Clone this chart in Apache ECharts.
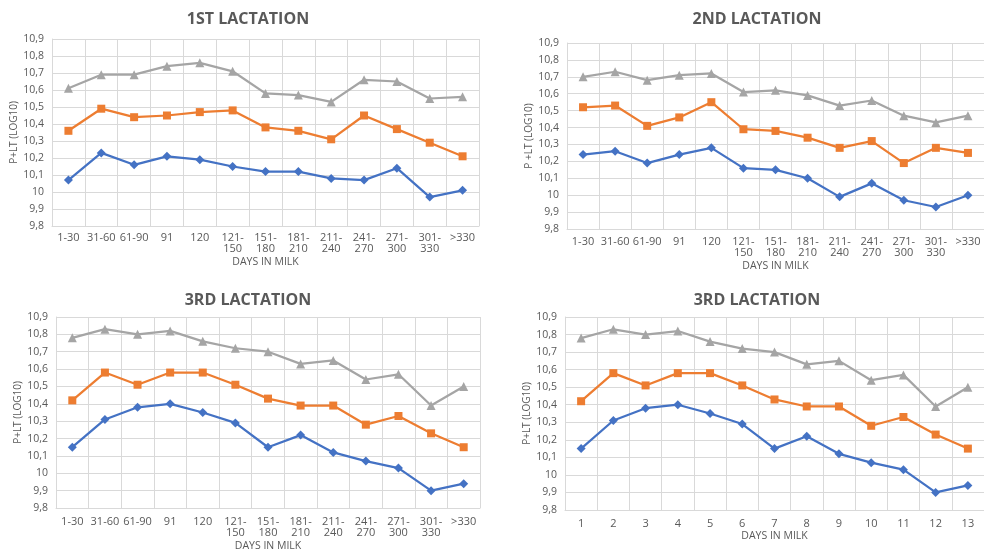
<!DOCTYPE html>
<html>
<head>
<meta charset="utf-8">
<script src="https://cdn.jsdelivr.net/npm/echarts@6/dist/echarts.min.js"></script>
<style>
  html, body { margin: 0; padding: 0; background: #fff; }
  #chart { width: 984px; height: 553px; }
</style>
</head>
<body>
<div id="chart"></div>
<script>
// 数据
const dimCategories = ['1-30', '31-60', '61-90', '91', '120', '121-\n150', '151-\n180', '181-\n210', '211-\n240', '241-\n270', '271-\n300', '301-\n330', '>330'];
const numCategories = ['1', '2', '3', '4', '5', '6', '7', '8', '9', '10', '11', '12', '13'];

const lac1Blue = [10.07, 10.23, 10.16, 10.21, 10.19, 10.15, 10.12, 10.12, 10.08, 10.07, 10.14, 9.97, 10.01];
const lac1Orange = [10.36, 10.49, 10.44, 10.45, 10.47, 10.48, 10.38, 10.36, 10.31, 10.45, 10.37, 10.29, 10.21];
const lac1Gray = [10.61, 10.69, 10.69, 10.74, 10.76, 10.71, 10.58, 10.57, 10.53, 10.66, 10.65, 10.55, 10.56];

const lac2Blue = [10.24, 10.26, 10.19, 10.24, 10.28, 10.16, 10.15, 10.10, 9.99, 10.07, 9.97, 9.93, 10.00];
const lac2Orange = [10.52, 10.53, 10.41, 10.46, 10.55, 10.39, 10.38, 10.34, 10.28, 10.32, 10.19, 10.28, 10.25];
const lac2Gray = [10.70, 10.73, 10.68, 10.71, 10.72, 10.61, 10.62, 10.59, 10.53, 10.56, 10.47, 10.43, 10.47];

const lac3Blue = [10.15, 10.31, 10.38, 10.40, 10.35, 10.29, 10.15, 10.22, 10.12, 10.07, 10.03, 9.90, 9.94];
const lac3Orange = [10.42, 10.58, 10.51, 10.58, 10.58, 10.51, 10.43, 10.39, 10.39, 10.28, 10.33, 10.23, 10.15];
const lac3Gray = [10.78, 10.83, 10.80, 10.82, 10.76, 10.72, 10.70, 10.63, 10.65, 10.54, 10.57, 10.39, 10.50];

const panelTitles = ['1ST LACTATION', '2ND LACTATION', '3RD LACTATION', '3RD LACTATION'];
const yNames = ['P+LT (LOG10)', 'P +LT (LOG10)', 'P+LT (LOG10)', 'P+LT (LOG10)'];

const chart = echarts.init(document.getElementById('chart'));
const FONT = 'Open Sans';
const TXT = '#595959';
const GRIDC = '#d9d9d9';

const grids = [
    { left: 52, top: 39, width: 427, height: 187 },
    { left: 567, top: 43, width: 424, height: 186 },
    { left: 56, top: 317, width: 424, height: 193 },
    { left: 565, top: 317, width: 425, height: 193 }
];
const titlePos = [[243, 6], [752, 6], [243, 287], [752, 287]];
const xLabelMargins = [6, 7, 8, 8];
const xNameGaps = [31, 32, 33, 21];
const yNameGaps = [32, 31, 31, 33];
const xCats = [dimCategories, dimCategories, dimCategories, numCategories];
const panelData = [
    [lac1Blue, lac1Orange, lac1Gray],
    [lac2Blue, lac2Orange, lac2Gray],
    [lac3Blue, lac3Orange, lac3Gray],
    [lac3Blue, lac3Orange, lac3Gray]
];

const colors = ['#4472C4', '#ED7D31', '#A5A5A5'];
const symbols = ['diamond', 'rect', 'triangle'];
const symbolSizes = [9, 8, 9];

const xAxes = [], yAxes = [], series = [], titles = [];
grids.forEach((g, i) => {
    titles.push({
        text: panelTitles[i],
        left: titlePos[i][0],
        top: titlePos[i][1],
        textAlign: 'center',
        textStyle: { fontFamily: FONT, fontSize: 16, fontWeight: 'bold', color: TXT }
    });
    xAxes.push({
        type: 'category',
        gridIndex: i,
        data: xCats[i],
        boundaryGap: true,
        name: 'DAYS IN MILK',
        nameLocation: 'middle',
        nameGap: xNameGaps[i],
        nameTextStyle: { fontFamily: FONT, fontSize: 10.5, color: TXT },
        axisLine: { lineStyle: { color: GRIDC } },
        axisTick: { show: false },
        axisLabel: { interval: 0, margin: xLabelMargins[i], fontFamily: FONT, fontSize: 11, color: TXT, lineHeight: 11 },
        splitLine: { show: true, interval: 0, lineStyle: { color: GRIDC } }
    });
    yAxes.push({
        type: 'value',
        gridIndex: i,
        min: 9.8,
        max: 10.9,
        interval: 0.1,
        name: yNames[i],
        nameLocation: 'middle',
        nameGap: yNameGaps[i],
        nameTextStyle: { fontFamily: FONT, fontSize: 10, color: TXT },
        axisLine: { show: true, lineStyle: { color: GRIDC } },
        axisTick: { show: false },
        axisLabel: {
            margin: 8,
            fontFamily: FONT, fontSize: 10.5, color: TXT,
            formatter: v => String(+v.toFixed(1)).replace('.', ',')
        },
        splitLine: { show: true, lineStyle: { color: GRIDC } }
    });
    panelData[i].forEach((d, k) => {
        series.push({
            type: 'line',
            xAxisIndex: i,
            yAxisIndex: i,
            data: d,
            symbol: symbols[k],
            symbolSize: symbolSizes[k],
            itemStyle: { color: colors[k] },
            lineStyle: { color: colors[k], width: 2.25 }
        });
    });
});

chart.setOption({
    animation: false,
    title: titles,
    grid: grids,
    xAxis: xAxes,
    yAxis: yAxes,
    series: series
});
</script>
</body>
</html>
